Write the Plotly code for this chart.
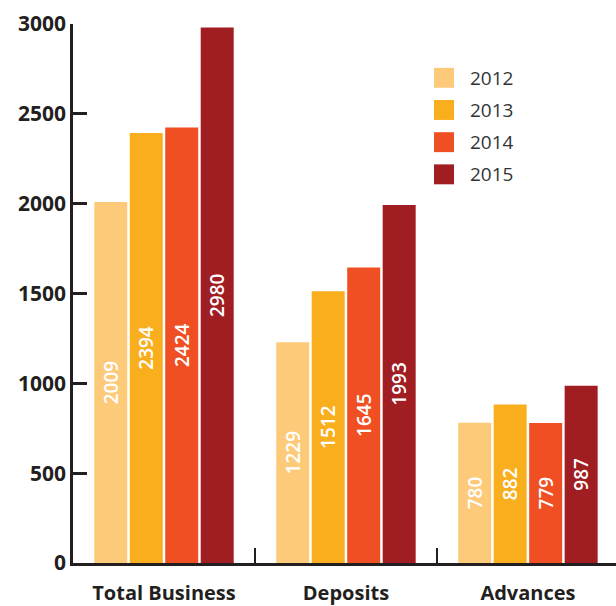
import plotly.graph_objects as go

categories = ["Total Business", "Deposits", "Advances"]
years = ["2012", "2013", "2014", "2015"]
values_2012 = [2009, 1229, 780]
values_2013 = [2394, 1512, 882]
values_2014 = [2424, 1645, 779]
values_2015 = [2980, 1993, 987]
y_ticks = [0, 500, 1000, 1500, 2000, 2500, 3000]

colors = ["#FDCA7A", "#F9AE1E", "#F04E23", "#A01D21"]
series = [values_2012, values_2013, values_2014, values_2015]
ink = "#231F20"
font_family = "Open Sans"

fig = go.Figure()
for year, vals, col in zip(years, series, colors):
    fig.add_trace(go.Bar(
        x=categories, y=vals, name=year,
        marker=dict(color=col, line=dict(width=0)),
        text=[str(v) for v in vals],
        textposition="inside",
        insidetextanchor="middle",
        textangle=-90,
        constraintext="none",
        insidetextfont=dict(color="white", size=19, family=font_family, weight=600),
        showlegend=False,
    ))

# Legend: colored squares with year labels
shapes = []
annotations = []
for i, (year, col) in enumerate(zip(years, colors)):
    y_top = 68 + i * 32.3
    shapes.append(dict(
        type="rect", xref="paper", yref="paper",
        x0=(434 - 73) / 543, x1=(454 - 73) / 543,
        y0=(565 - (y_top + 20)) / 541, y1=(565 - y_top) / 541,
        fillcolor=col, line=dict(width=0),
    ))
    annotations.append(dict(
        xref="paper", yref="paper",
        x=(468 - 73) / 543, y=(565 - (y_top + 10)) / 541,
        text=year, showarrow=False, xanchor="left", yanchor="middle",
        font=dict(family=font_family, size=19, color="#333333"),
    ))

fig.update_layout(
    width=616, height=606,
    margin=dict(l=73, r=0, t=24, b=41),
    paper_bgcolor="white", plot_bgcolor="white",
    barmode="group", bargap=0.22, bargroupgap=0.07,
    shapes=shapes, annotations=annotations,
    font=dict(family=font_family, color=ink),
)
fig.update_xaxes(
    type="category", range=[-0.5, 2.484],
    showline=True, linecolor=ink, linewidth=2.5,
    ticks="inside", tickson="boundaries", ticklen=15, tickwidth=2, tickcolor=ink,
    tickfont=dict(family=font_family, size=20, color=ink, weight="bold"),
    ticklabelstandoff=10,
    showgrid=False, zeroline=False,
)
fig.update_yaxes(
    range=[0, 3000], tickvals=y_ticks,
    showline=True, linecolor=ink, linewidth=2.5,
    ticks="inside", ticklen=14, tickwidth=2.5, tickcolor=ink,
    tickfont=dict(family=font_family, size=21, color=ink, weight="bold"),
    showgrid=False, zeroline=False,
)

fig.write_html("out.html")
